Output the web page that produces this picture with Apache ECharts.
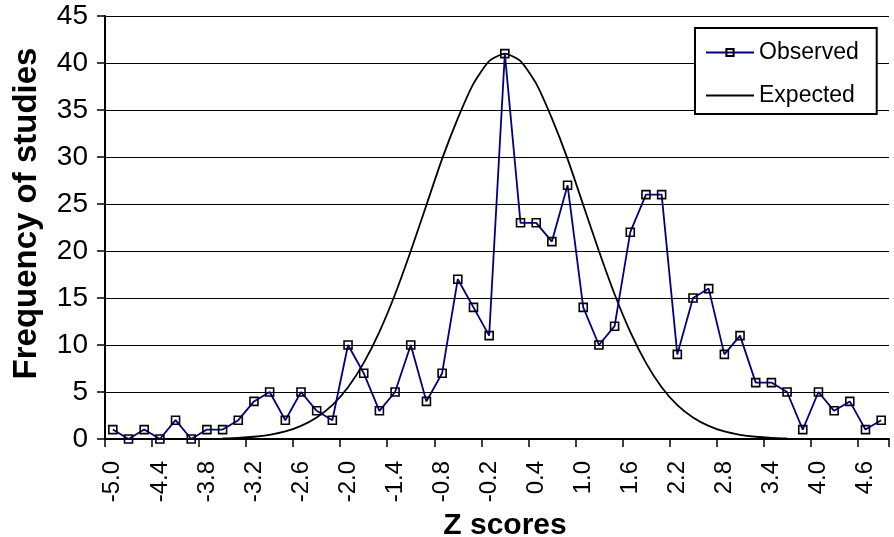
<!DOCTYPE html>
<html>
<head>
<meta charset="utf-8">
<script src="https://cdn.jsdelivr.net/npm/echarts@6/dist/echarts.min.js"></script>
<style>
html,body{margin:0;padding:0;background:#fff;}
#chart{width:894px;height:537px;}
</style>
</head>
<body>
<div id="chart"></div>
<script>
var categories = ["-5.0","-4.8","-4.6","-4.4","-4.2","-4.0","-3.8","-3.6","-3.4","-3.2",
  "-3.0","-2.8","-2.6","-2.4","-2.2","-2.0","-1.8","-1.6","-1.4","-1.2",
  "-1.0","-0.8","-0.6","-0.4","-0.2","0.0","0.2","0.4","0.6","0.8",
  "1.0","1.2","1.4","1.6","1.8","2.0","2.2","2.4","2.6","2.8",
  "3.0","3.2","3.4","3.6","3.8","4.0","4.2","4.4","4.6","4.8"];
var observed = [1,0,1,0,2,0,1,1,2,4,
  5,2,5,3,2,10,7,3,5,10,
  4,7,17,14,11,41,23,23,21,27,
  14,10,12,22,26,26,9,15,16,9,
  11,6,6,5,1,5,3,4,1,2];
var expected = [null,null,null,null,null,null,null,0.06,0.12,0.24,
  0.45,0.8,1.4,2.3,3.6,5.5,8.1,11.4,15.4,20.0,
  24.9,29.8,34.1,37.8,40.2,41.0,40.2,37.8,34.1,29.8,
  24.9,20.0,15.4,11.4,8.1,5.5,3.6,2.3,1.4,0.8,
  0.45,0.24,0.12,0.06,null,null,null,null,null,null];
var yTicks = {min:0, max:45, interval:5};

var FONT = "'Liberation Sans', Arial, sans-serif";
var chart = echarts.init(document.getElementById('chart'), null, {renderer:'canvas'});
chart.setOption({
  animation: false,
  backgroundColor: '#ffffff',
  grid: {left:105, top:16, right:5, bottom:98, containLabel:false, outerBoundsMode:'none'},
  legend: {
    orient: 'vertical',
    left: 695, top: 28,
    padding: [13, 18, 7, 10],
    itemWidth: 48, itemHeight: 9, itemGap: 20,
    backgroundColor: '#ffffff',
    borderColor: '#000000', borderWidth: 2,
    textStyle: {fontFamily: FONT, fontSize: 23, color: '#000'},
    data: [
      {name: 'Observed'},
      {name: 'Expected', itemStyle: {color: 'rgba(0,0,0,0)', borderWidth: 0}}
    ]
  },
  xAxis: {
    type: 'category',
    data: categories,
    boundaryGap: true,
    name: 'Z scores',
    nameLocation: 'middle',
    nameGap: 68,
    nameTextStyle: {fontFamily: FONT, fontSize: 30, fontWeight: 'bold', color: '#000', padding: [0, 0, 0, 16]},
    axisLine: {lineStyle: {color: '#000', width: 2}},
    axisTick: {show: true, interval: 2, length: 8, lineStyle: {color: '#000', width: 1.5}},
    axisLabel: {interval: 2, rotate: 90, margin: 22, fontFamily: FONT, fontSize: 24, color: '#000'},
    splitLine: {show: false}
  },
  yAxis: {
    type: 'value',
    min: yTicks.min, max: yTicks.max, interval: yTicks.interval,
    name: 'Frequency of studies',
    nameLocation: 'middle',
    nameGap: 62,
    nameTextStyle: {fontFamily: FONT, fontSize: 33, fontWeight: 'bold', color: '#000', padding: [0, 0, 0, 28]},
    axisLine: {show: true, lineStyle: {color: '#000', width: 2}},
    axisTick: {show: true, length: 8, lineStyle: {color: '#000', width: 1.5}},
    axisLabel: {margin: 17, fontFamily: FONT, fontSize: 28, color: '#000'},
    splitLine: {show: true, lineStyle: {color: '#000', width: 1.2}}
  },
  series: [
    {
      name: 'Observed',
      type: 'line',
      data: observed,
      symbol: 'rect',
      symbolSize: 8,
      showAllSymbol: true,
      lineStyle: {color: '#000080', width: 1.8},
      itemStyle: {color: 'rgba(255,255,255,0)', borderColor: '#000', borderWidth: 1.6},
      z: 3
    },
    {
      name: 'Expected',
      type: 'line',
      data: expected,
      symbol: 'none',
      smooth: 0.2,
      lineStyle: {color: '#000', width: 1.8},
      itemStyle: {color: '#000'},
      z: 2
    }
  ]
});
</script>
</body>
</html>
